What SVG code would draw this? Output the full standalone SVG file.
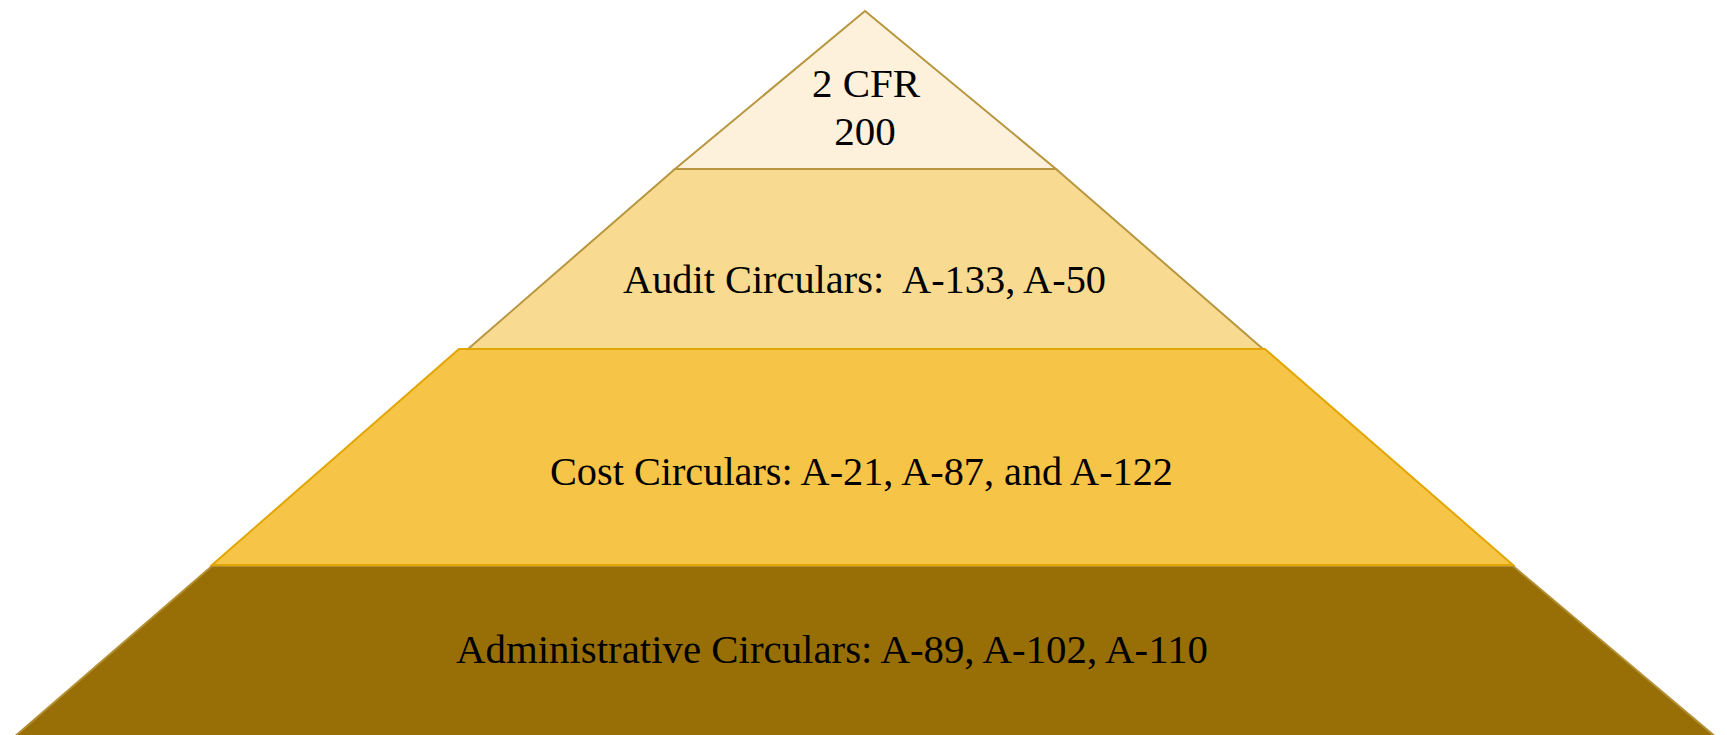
<svg xmlns="http://www.w3.org/2000/svg" width="1727" height="735" viewBox="0 0 1727 735">
  <style>
    .tier { stroke-width: 2; stroke-linejoin: miter; }
    .label { font-family: "Liberation Serif", "DejaVu Serif", serif; font-size: 41px; fill: #000000; white-space: pre; }
  </style>
  <rect x="0" y="0" width="1727" height="735" fill="#ffffff"/>

  <!-- Base tier -->
  <g id="tier-administrative">
    <polygon class="tier" points="212,566 1513,566 1717,738 13,738" fill="#976F06" stroke="#B38F34"/>
    <text class="label" x="456" y="663" textLength="752" lengthAdjust="spacingAndGlyphs">Administrative Circulars: A-89, A-102, A-110</text>
  </g>

  <!-- Second tier -->
  <g id="tier-audit">
    <polygon class="tier" points="675,169 1056,169 1263,349 468,349" fill="#F8DB91" stroke="#B8963F"/>
    <text class="label" x="623" y="293" textLength="483" lengthAdjust="spacingAndGlyphs" xml:space="preserve">Audit Circulars:  A-133, A-50</text>
  </g>

  <!-- Apex -->
  <g id="tier-cfr">
    <polygon class="tier" points="865,11 1056,169 675,169" fill="#FDF1DB" stroke="#B8963F"/>
    <text class="label" x="866" y="97" text-anchor="middle">2 CFR</text>
    <text class="label" x="865" y="145" text-anchor="middle">200</text>
  </g>

  <!-- Third tier -->
  <g id="tier-cost">
    <polygon class="tier" points="459,349 1265,349 1513,565 212,565" fill="#F6C447" stroke="#E2A600"/>
    <text class="label" x="550" y="485" textLength="623" lengthAdjust="spacingAndGlyphs">Cost Circulars: A-21, A-87, and A-122</text>
  </g>

  <g id="connectors"></g>
</svg>
